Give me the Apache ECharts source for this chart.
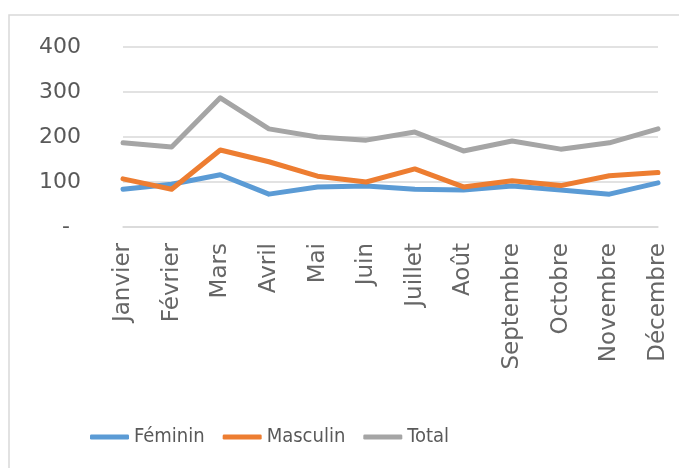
<!DOCTYPE html>
<html>
<head>
<meta charset="utf-8">
<script src="https://cdn.jsdelivr.net/npm/echarts@6/dist/echarts.min.js"></script>
<style>
  html, body { margin: 0; padding: 0; background: #fff; }
  #chart { width: 679px; height: 468px; }
</style>
</head>
<body>
<div id="chart"></div>
<script>
  const months = ['Janvier', 'Février', 'Mars', 'Avril', 'Mai', 'Juin', 'Juillet', 'Août', 'Septembre', 'Octobre', 'Novembre', 'Décembre'];
  const feminin = [84, 95, 116, 73, 89, 91, 84, 82, 91, 82, 73, 98];
  const masculin = [107, 84, 171, 145, 113, 100, 129, 89, 103, 92, 114, 121];
  const total = [187, 178, 287, 218, 200, 193, 211, 169, 191, 173, 187, 218];

  const chart = echarts.init(document.getElementById('chart'));

  const lineSeries = (name, data, color) => ({
    name,
    type: 'line',
    data,
    symbol: 'none',
    lineStyle: { width: 5, color, cap: 'round', join: 'round' },
    itemStyle: { color },
  });

  chart.setOption({
    animation: false,
    color: ['#5B9BD5', '#ED7D31', '#A5A5A5'],
    graphic: [
      {
        type: 'polyline',
        shape: { points: [[9, 468], [9, 15], [679, 15]] },
        style: { stroke: '#d9d9d9', lineWidth: 1.5, fill: null },
        silent: true,
      },
    ],
    grid: { left: 123, right: 21, top: 47, bottom: 241 },
    legend: {
      left: 85,
      top: 422,
      itemWidth: 39,
      itemHeight: 5,
      itemGap: 18,
      icon: 'roundRect',
      textStyle: {
        fontFamily: '"Liberation Sans Narrow", "DejaVu Sans Condensed", sans-serif',
        fontSize: 20,
        color: '#595959',
      },
      data: ['Féminin', 'Masculin', 'Total'],
    },
    xAxis: {
      type: 'category',
      data: months,
      boundaryGap: false,
      axisLine: { lineStyle: { color: '#d9d9d9', width: 1.5 } },
      axisTick: { show: false },
      axisLabel: {
        rotate: 90,
        margin: 16,
        interval: 0,
        color: '#666666',
        fontFamily: '"DejaVu Sans", sans-serif',
        fontSize: 23,
      },
    },
    yAxis: {
      type: 'value',
      min: 0,
      max: 400,
      interval: 100,
      axisLine: { show: false },
      axisTick: { show: false },
      splitLine: { lineStyle: { color: '#d9d9d9', width: 1.5 } },
      axisLabel: {
        margin: 42,
        color: '#595959',
        fontFamily: '"DejaVu Sans", sans-serif',
        fontSize: 22,
        formatter: (v) => (v === 0 ? '{d|-}' : String(v)),
        rich: {
          d: { color: '#595959', fontSize: 22, fontFamily: '"DejaVu Sans", sans-serif', padding: [0, 11, 0, 0] },
        },
      },
    },
    series: [
      lineSeries('Féminin', feminin, '#5B9BD5'),
      lineSeries('Masculin', masculin, '#ED7D31'),
      lineSeries('Total', total, '#A5A5A5'),
    ],
  });

  window.addEventListener('resize', () => chart.resize());
</script>
</body>
</html>
